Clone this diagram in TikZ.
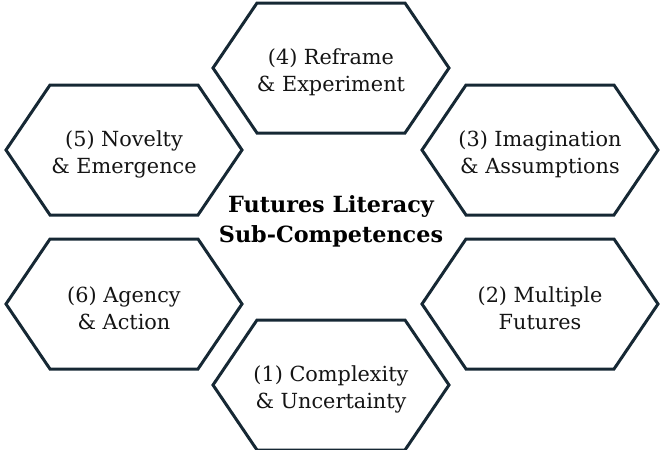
\documentclass[tikz,border=0pt]{standalone}
\usepackage{fontspec}
\setmainfont{DejaVu Serif}
\usepackage{tikz}

\definecolor{navy}{RGB}{22,40,52}
\definecolor{ink}{RGB}{20,20,20}

\begin{document}
\begin{tikzpicture}[x=1pt, y=-1pt]
  \tikzstyle{cell}=[draw = navy, line width = 3pt, line join = miter]
  \tikzstyle{caption}=[align = center, text = ink, font = \fontsize{20.8}{27}\selectfont]
  \tikzstyle{heading}=[align = center, text = black, font = \fontsize{22.3}{30}\selectfont\bfseries]

  \useasboundingbox (0, 0) rectangle (662, 450);

  \node[caption] (reframe)     at (331, 72)  {(4) Reframe\\\& Experiment};
  \node[caption] (novelty)     at (124, 154) {(5) Novelty\\\& Emergence};
  \node[caption] (imagination) at (540, 154) {(3) Imagination\\\& Assumptions};
  \node[caption] (agency)      at (124, 308) {(6) Agency\\\& Action};
  \node[caption] (futures)     at (540, 308) {(2) Multiple\\Futures};
  \node[caption] (complexity)  at (331, 389) {(1) Complexity\\\& Uncertainty};

  \node[heading] (centre) at (331, 221) {Futures Literacy\\Sub-Competences};

  % hexagon around each sub-competence, pointed to the left and right
  \foreach \id in {reframe, novelty, imagination, agency, futures, complexity}
    \draw[cell] ([xshift = -118pt, yshift = 4pt]\id.center) -- ++(44, -65) -- ++(148, 0)
      -- ++(44, 65) -- ++(-44, 65) -- ++(-148, 0) -- cycle;
\end{tikzpicture}
\end{document}
